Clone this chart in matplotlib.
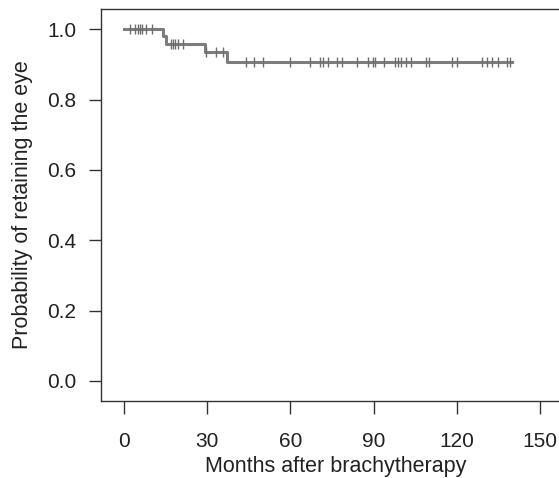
import numpy as np
import matplotlib
matplotlib.use("Agg")
import matplotlib.pyplot as plt

plt.rcParams['font.family'] = ['Liberation Sans', 'DejaVu Sans']

# Kaplan-Meier: step times and survival levels
step_times = [0, 14.2, 15.1, 29.1, 37.1, 139.9]
step_surv = [1.0, 0.981, 0.959, 0.934, 0.906, 0.906]

# censored observations (months)
censor_times = [2.3, 4.1, 4.9, 5.9, 6.6, 8.1, 10.0,
                17.0, 17.7, 18.5, 19.4, 21.1,
                29.6, 33.0, 35.6,
                43.8, 46.9, 50.0, 59.9, 66.9, 70.8, 71.6, 73.7, 76.8, 78.7,
                84.1, 87.9, 89.8, 90.6, 93.7, 97.6, 98.8, 100.0, 101.8, 103.6,
                108.8, 109.9, 118.1, 119.9, 129.1, 130.8, 132.7, 134.7, 138.0, 139.0]

xticks = [0, 30, 60, 90, 120, 150]
yticks = [0.0, 0.2, 0.4, 0.6, 0.8, 1.0]

fig = plt.figure(figsize=(5.59, 4.78), dpi=100)
ax = fig.add_axes([0.1807, 0.161, 0.84, 0.82])

col = '#7d7d7d'
ax.step(step_times, step_surv, where='post', color=col, lw=2.2, zorder=3)
idx = np.searchsorted(step_times, censor_times, side='right') - 1
ax.plot(censor_times, np.array(step_surv)[idx], ls='none', marker='|',
        ms=6.5, mew=1.0, color='#6e6e6e', zorder=4)

ax.set_xlim(-8.3, 161)
ax.set_ylim(-0.057, 1.057)
ax.set_xticks(xticks)
ax.set_xticklabels([str(t) for t in xticks])
ax.set_yticks(yticks)
ax.set_yticklabels(['%.1f' % v for v in yticks])

for s in ['left', 'bottom', 'top', 'right']:
    ax.spines[s].set_color('#333333')
    ax.spines[s].set_linewidth(1.0)

ax.tick_params(axis='x', length=9, width=1.0, color='#333333', pad=13, labelsize=15,
               labelcolor='#222222')
ax.tick_params(axis='y', length=9, width=1.0, color='#333333', pad=9, labelsize=15,
               labelcolor='#222222')
ax.set_xlabel('Months after brachytherapy', fontsize=15.5, labelpad=4, color='#222222')
ax.set_ylabel('Probability of retaining the eye', fontsize=15.5, labelpad=10, color='#222222')

fig.savefig('out.png', dpi=100)
